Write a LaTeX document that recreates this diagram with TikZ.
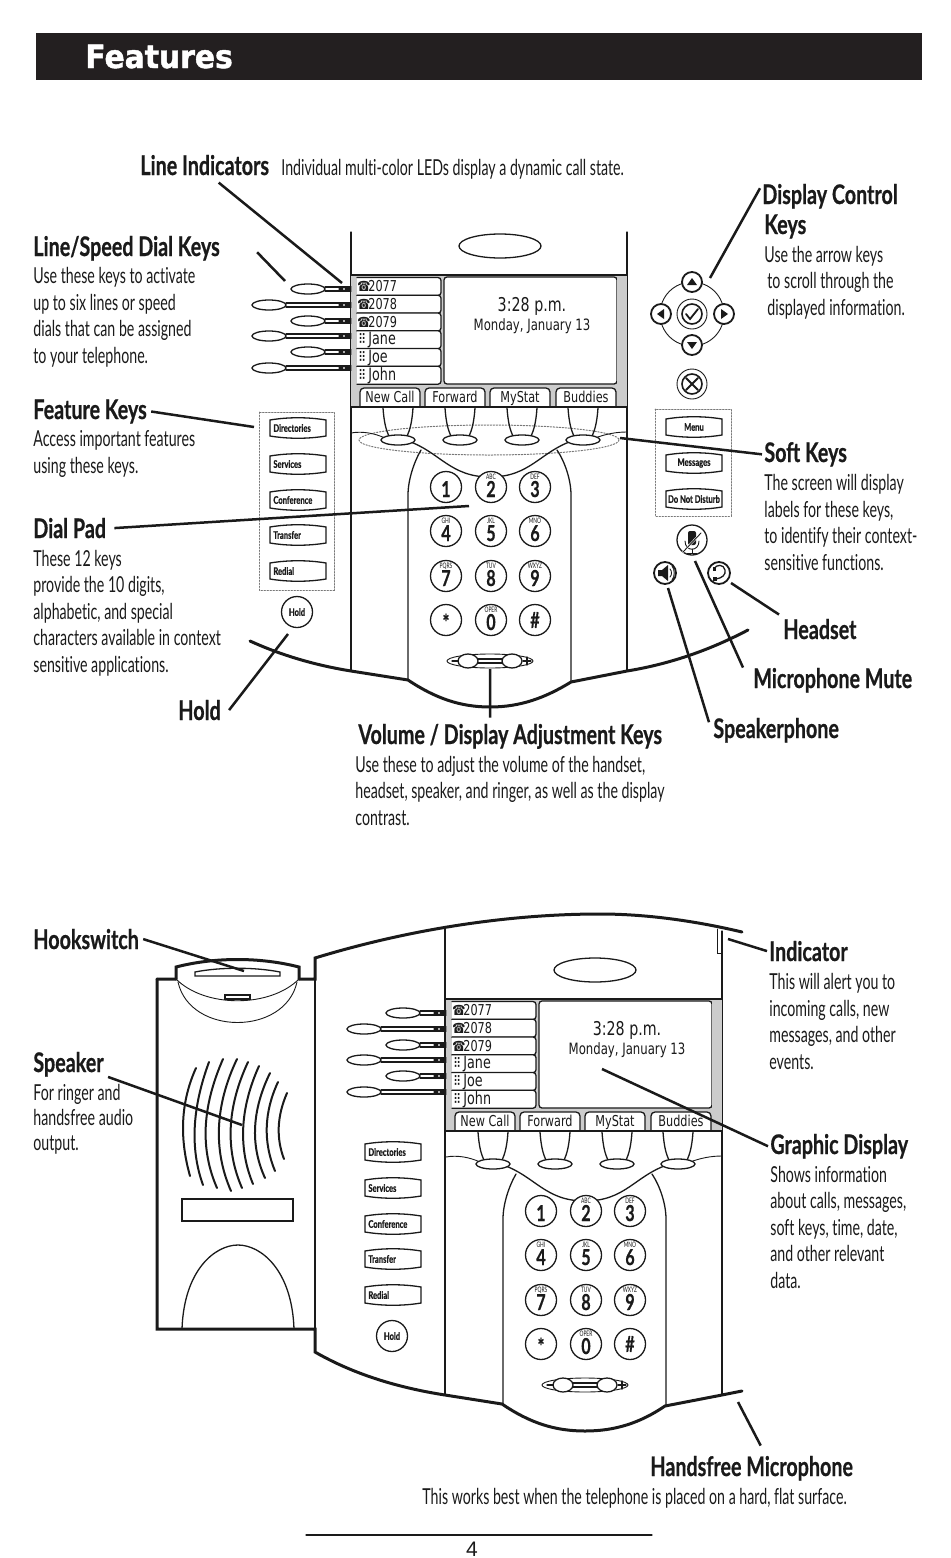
\documentclass[tikz,border=0pt]{standalone}
\usepackage{fontspec}
\usetikzlibrary{positioning, calc}
\newfontfamily\condfont[FakeStretch=0.645,Ligatures=NoCommon]{Lato}
\newfontfamily\headfont[FakeStretch=0.73,FakeBold=0.6]{Lato}
\newfontfamily\scrfont[FakeStretch=0.75]{DejaVu Sans}
\newfontfamily\titlefont[FakeStretch=0.93,FakeBold=1.5]{DejaVu Sans}
\newfontfamily\pagefont{Liberation Sans}
\definecolor{clrbar}{HTML}{231F20}
\definecolor{clrink}{HTML}{1A1A1A}
\definecolor{clrscreen}{HTML}{CCCCCC}
\definecolor{clrdots}{HTML}{777777}

\begin{document}
\begin{tikzpicture}[
    x=0.5pt, y=-0.5pt,
    line cap=round,
    every node/.style={inner sep=0, text=clrink},
    heading/.style={anchor=base west, font=\headfont\fontsize{13.5}{16}\selectfont\bfseries},
    bodytext/.style={anchor=base west, align=left, font=\condfont\fontsize{11}{13.2}\selectfont},
    keytext/.style={font=\headfont\fontsize{5.2}{6}\selectfont\bfseries},
    digittext/.style={font=\headfont\fontsize{11}{12}\selectfont\bfseries},
    lettertext/.style={font=\condfont\fontsize{3.8}{4}\selectfont},
    scrtext/.style={font=\scrfont\fontsize{7}{8}\selectfont},
    tabtext/.style={font=\scrfont\fontsize{7.5}{8}\selectfont},
    nametext/.style={font=\scrfont\fontsize{8.5}{9}\selectfont},
    leader/.style={draw=clrink, line width=1.25pt, line cap=butt},
    shell/.style={draw=clrink, line width=1.5pt, line join=miter},
    outline/.style={draw=clrink, line width=0.65pt},
    hairline/.style={draw=clrink, line width=0.45pt},
    grille/.style={draw=clrink, line width=1pt},
    dotframe/.style={draw=clrdots, line width=0.5pt, dash pattern=on 0.7pt off 0.8pt},
    pics/softbtn/.style={code={
        \draw[outline, fill=white] (-28,-8) .. controls (-10,-11) and (10,-11) .. (28,-8) -- (28,8) .. controls (10,11) and (-10,11) .. (-28,8) -- cycle;
        \node[keytext, anchor=west] at (-25,0) {#1};
    }},
    pics/softbtnc/.style={code={
        \draw[outline, fill=white] (-28,-8) .. controls (-10,-11) and (10,-11) .. (28,-8) -- (28,8) .. controls (10,11) and (-10,11) .. (-28,8) -- cycle;
        \node[keytext] at (0,0) {#1};
    }},
    pics/dialkey/.style args={#1/#2}{code={
        \draw[outline, fill=white] (0,0) circle [radius=15.5];
        \node[digittext, anchor=base] at (0,10) {#1};
        \node[lettertext] at (0,-10) {#2};
    }},
    pics/linekey/.style={code={
        \draw[outline, fill=white] (-17,0) ellipse [x radius=17, y radius=5];
        \draw[outline] (0,-2) -- (#1,-2) (0,2) -- (#1,2);
        \draw[line width=0.6pt, draw=clrink] (#1-12,0) -- (#1-8,0) (#1-6,0) -- (#1,0);
    }},
    pics/softoval/.style={code={
        \draw[outline] (-15,-32) .. controls (-14,-18) and (-12,-10) .. (-9,-4);
        \draw[outline] (15,-32) .. controls (14,-18) and (12,-10) .. (9,-4);
        \draw[outline, fill=white] (0,0) ellipse [x radius=17, y radius=5];
    }},
    pics/softtab/.style={code={
        \draw[outline, fill=white, rounded corners=2pt] (-30,19) -- (-30,0) -- (30,0) -- (30,19);
        \node[tabtext, anchor=base] at (0,14.5) {#1};
    }},
    pics/phonetab/.style={code={
        \draw[outline, fill=white, rounded corners=1.5pt] (-1,0) -- (83,0) -- (83,18) -- (-1,18);
        \node[scrtext, anchor=base west] at (-1,14) {☎};
        \node[tabtext, anchor=base west] at (10,14) {#1};
    }},
    pics/nametab/.style={code={
        \draw[outline, fill=white, rounded corners=1.5pt] (-1,0) -- (83,0) -- (83,18) -- (-1,18);
        \node[scrtext, anchor=base west] at (0,14) {⠿};
        \node[nametext, anchor=base west] at (10,14) {#1};
    }},
    pics/phoneface/.style={code={
        \draw[outline, fill=white] (500,246) ellipse [x radius=41, y radius=12];
        % screen
        \fill[clrscreen] (351,275) rectangle (627,407);
        \draw[outline] (351,275) -- (627,275);
        \draw[outline, fill=white, rounded corners=1.5pt] (444,277) -- (617,277) -- (617,384) -- (444,384) -- cycle;
        \fill[clrscreen] (617,276) rectangle (627,384);
        \pic at (358,277.5) {phonetab=2077};
        \pic at (358,295.2) {phonetab=2078};
        \pic at (358,313) {phonetab=2079};
        \pic at (358,330.7) {nametab=Jane};
        \pic at (358,348.5) {nametab=Joe};
        \pic at (358,366.2) {nametab=John};
        \node[font=\scrfont\fontsize{9.5}{12}\selectfont] (clock) at (532,306) {3:28 p.m.};
        \node[font=\scrfont\fontsize{7.8}{9}\selectfont, below=1.5pt of clock] (date) {Monday, January 13};
        \pic at (390,388) {softtab={New Call}};
        \pic at (455,388) {softtab={Forward}};
        \pic at (520,388) {softtab={MyStat}};
        \pic at (586,388) {softtab={Buddies}};
        \draw[outline] (351,407) -- (627,407);
        % line keys
        \pic at (325,289) {linekey=26};
        \pic at (286,305) {linekey=65};
        \pic at (325,321) {linekey=26};
        \pic at (286,336) {linekey=65};
        \pic at (325,352) {linekey=26};
        \pic at (286,368) {linekey=65};
        % soft keys and the curve behind them
        \draw[hairline] (351,433) .. controls (362,431) and (374,433) .. (385,438);
        \draw[hairline] (595,438) .. controls (606,434) and (616,432) .. (627,432);
        \draw[outline] (408,680) -- (408,495) .. controls (408,480) and (414,462) .. (421,450);
        \draw[outline] (571,682) -- (571,495) .. controls (571,480) and (565,462) .. (557,450);
        \draw[outline] (408,441) .. controls (440,452) and (450,477) .. (490,477) .. controls (530,477) and (540,452) .. (572,441);
        \pic at (398,440) {softoval};
        \pic at (460,440) {softoval};
        \pic at (522,440) {softoval};
        \pic at (583,440) {softoval};
        % feature keys
        \pic at (298,428) {softbtn=Directories};
        \pic at (298,464) {softbtn=Services};
        \pic at (298,500) {softbtn=Conference};
        \pic at (298,535) {softbtn=Transfer};
        \pic at (298,571) {softbtn=Redial};
        \node[draw=clrink, line width=0.65pt, fill=white, circle, minimum size=15.5pt, keytext] (hold) at (297,612) {Hold};
        % dial pad
        \pic at (446,487) {dialkey=1/};
        \pic at (491,487) {dialkey=2/ABC};
        \pic at (535,487) {dialkey=3/DEF};
        \pic at (446,531) {dialkey=4/GHI};
        \pic at (491,531) {dialkey=5/JKL};
        \pic at (535,531) {dialkey=6/MNO};
        \pic at (446,576) {dialkey=7/PQRS};
        \pic at (491,576) {dialkey=8/TUV};
        \pic at (535,576) {dialkey=9/WXYZ};
        \pic at (491,620) {dialkey=0/OPER};
        \draw[outline, fill=white] (446,620) circle [radius=15.5];
        \node[digittext] (star) at (446,622) {*};
        \draw[outline, fill=white] (535,620) circle [radius=15.5];
        \node[digittext] (hash) at (535,620) {\#};
        % volume
        \draw[hairline] (490,661) ellipse [x radius=43, y radius=7];
        \draw[outline] (476,659) -- (504,659) (476,663) -- (504,663);
        \draw[outline, fill=white] (468,661) ellipse [x radius=10, y radius=7];
        \draw[outline, fill=white] (512,661) ellipse [x radius=10, y radius=7];
        \draw[outline] (452,661) -- (458,661);
        \draw[outline] (523,661) -- (531,661) (527,657) -- (527,665);
    }},
]
% title bar
\useasboundingbox (0,0) rectangle (950,1558);
\fill[clrbar] (36,33) rectangle (922,80);
\node[anchor=base west, text=white, font=\titlefont\fontsize{16}{18}\selectfont\bfseries] (title) at (85,68) {Features};

% upper phone
\draw[outline] (351,232) -- (351,671);
\draw[outline] (627,232) -- (627,671);
\draw[dotframe] (489,440) ellipse [x radius=130, y radius=15];
\draw[dotframe] (259,412) rectangle (334,590);
\draw[dotframe] (655,409) rectangle (731,516);
\pic (up) at (0,0) {phoneface};
\draw[shell] (250,641) .. controls (285,657) and (320,666) .. (351,671) -- (408,680) .. controls (435,698) and (460,707) .. (490,707) .. controls (520,707) and (545,698) .. (571,682) -- (627,671) .. controls (670,664) and (710,650) .. (748,630);
\pic at (694,427) {softbtnc=Menu};
\pic at (694,463) {softbtnc=Messages};
\pic at (694,499) {softbtnc=Do Not Disturb};

% display control cluster
\draw[hairline] (692,314) circle [radius=32];
\draw[hairline] (692,314) circle [radius=15];
\draw[outline, line width=0.8pt] (692,314) circle [radius=10];
\draw[outline, line width=0.9pt] (686,314) -- (690,319) -- (698,309);
\draw[outline, line width=0.9pt, fill=white] (692,282) circle [radius=10];
\draw[outline, line width=0.9pt, fill=white] (692,345) circle [radius=10];
\draw[outline, line width=0.9pt, fill=white] (661,314) circle [radius=10];
\draw[outline, line width=0.9pt, fill=white] (724,314) circle [radius=10];
\fill[clrink] (687,285) -- (697,285) -- (692,278) -- cycle;
\fill[clrink] (687,342) -- (697,342) -- (692,349) -- cycle;
\fill[clrink] (664,309) -- (664,319) -- (657,314) -- cycle;
\fill[clrink] (721,309) -- (721,319) -- (728,314) -- cycle;
\draw[hairline] (692,384) circle [radius=15];
\draw[outline, line width=0.8pt] (692,384) circle [radius=10];
\draw[outline, line width=0.9pt] (686,378) -- (698,390) (698,378) -- (686,390);

% mute, speaker, headset
\draw[outline, fill=white] (692,540) circle [radius=15];
\fill[clrink, rounded corners=1pt] (688,531) rectangle (696,545);
\draw[hairline] (685,541) .. controls (685,552) and (699,552) .. (699,541);
\draw[hairline] (692,549) -- (692,553) (687,553) -- (697,553);
\draw[draw=white, line width=1pt] (683,552) -- (701,533);
\draw[hairline] (683,552) -- (701,533);
\draw[outline, line width=0.9pt, fill=white] (665,573) circle [radius=11];
\fill[clrink] (658,570) -- (662,570) -- (668,565) -- (668,581) -- (662,576) -- (658,576) -- cycle;
\draw[hairline] (670,569) .. controls (672,571) and (672,575) .. (670,577);
\draw[hairline] (672,566) .. controls (675,570) and (675,576) .. (672,580);
\draw[outline, line width=0.9pt, fill=white] (719,573) circle [radius=11];
\draw[outline] (714,569) .. controls (716,564) and (724,564) .. (725,570) .. controls (726,575) and (722,578) .. (716,579);
\fill[clrink] (713,577) rectangle (717,581);
\fill[clrink] (713,567) rectangle (716,571);

% upper labels
\node[heading] (h_lines) at (140,175) {Line Indicators};
\node[bodytext, anchor=base west] (b_lines) at (281,175) {Individual multi-color LEDs display a dynamic call state.};
\node[heading] (h_speed) at (33,256) {Line/Speed Dial Keys};
\node[bodytext] (b_speed) at (33,363) {Use these keys to activate\\up to six lines or speed\\dials that can be assigned\\to your telephone.};
\node[heading] (h_feature) at (33,419) {Feature Keys};
\node[bodytext] (b_feature) at (33,473) {Access important features\\using these keys.};
\node[heading] (h_dial) at (33,538) {Dial Pad};
\node[bodytext] (b_dial) at (33,672) {These 12 keys\\provide the 10 digits,\\alphabetic, and special\\characters available in context\\sensitive applications.};
\node[heading] (h_hold) at (178,720) {Hold};
\node[heading] (h_vol) at (358,744) {Volume / Display Adjustment Keys};
\node[bodytext] (b_vol) at (355,825) {Use these to adjust the volume of the handset,\\headset, speaker, and ringer, as well as the display\\contrast.};
\node[heading] (h_display) at (762,204) {Display Control};
\node[heading] (h_keys) at (764,234) {Keys};
\node[bodytext] (b_display) at (764,315) {Use the arrow keys\\\hspace{1.5pt}to scroll through the\\\hspace{1.5pt}displayed information.};
\node[heading] (h_soft) at (764,462) {Soft Keys};
\node[bodytext] (b_soft) at (764,570) {The screen will display\\labels for these keys,\\to identify their context-\\sensitive functions.};
\node[heading] (h_headset) at (783,639) {Headset};
\node[heading] (h_mic) at (753,688) {Microphone Mute};
\node[heading] (h_sphone) at (713,738) {Speakerphone};

% lower phone
\draw[shell] (157,979) -- (157,1329) -- (315,1329) -- (315,1352) .. controls (355,1375) and (400,1388) .. (445,1395) -- (502,1404) .. controls (530,1423) and (555,1431) .. (585,1431) .. controls (615,1431) and (640,1423) .. (665,1406) -- (722,1395) -- (742,1391);
\draw[shell] (157,979) -- (176,979) (299,979) -- (315,979) -- (315,958) .. controls (400,932) and (500,914) .. (600,914) .. controls (650,914) and (700,922) .. (742,932);
\draw[outline] (315,958) -- (315,1352);
\draw[outline] (445,929) -- (445,1395);
\draw[outline] (722,931) -- (722,1395);
\draw[hairline] (717,929) -- (717,953) -- (722,953);
\pic (low) at (95,724) {phoneface};
\draw[shell] (176,979) -- (176,967) .. controls (215,957) and (260,957) .. (299,967) -- (299,979);
\draw[hairline] (176,979) .. controls (205,1008) and (270,1008) .. (299,979);
\draw[hairline] (178,982) .. controls (190,1036) and (285,1036) .. (297,982);
\draw[outline] (195,972) .. controls (220,967) and (255,967) .. (280,972) -- (280,976) -- (195,976) -- cycle;
\draw[outline] (225,995) rectangle (250,999);
\draw[grille] (196,1068) .. controls (181,1101) and (179,1137) .. (190,1176);
\draw[grille] (209,1062) .. controls (192,1108) and (190,1149) .. (203,1185);
\draw[grille] (223,1059) .. controls (202,1107) and (200,1149) .. (217,1188);
\draw[grille] (237,1059) .. controls (215,1105) and (213,1150) .. (231,1191);
\draw[grille] (248,1062) .. controls (227,1107) and (225,1149) .. (242,1188);
\draw[grille] (259,1066) .. controls (240,1108) and (238,1148) .. (253,1184);
\draw[grille] (270,1073) .. controls (252,1110) and (250,1145) .. (265,1178);
\draw[grille] (278,1082) .. controls (264,1112) and (263,1142) .. (275,1171);
\draw[grille] (287,1093) .. controls (277,1116) and (276,1138) .. (284,1159);
\draw[outline] (182,1199) rectangle (293,1221);
\draw[outline] (182,1329) .. controls (184,1270) and (215,1245) .. (238,1245) .. controls (261,1245) and (292,1270) .. (294,1329);

% lower labels
\node[heading] (h_hook) at (33,949) {Hookswitch};
\node[heading] (h_speaker) at (33,1072) {Speaker};
\node[bodytext, font=\condfont\fontsize{11}{12.3}\selectfont] (b_speaker) at (33,1150) {For ringer and\\handsfree audio\\output.};
\node[heading] (h_indicator) at (769,961) {Indicator};
\node[bodytext] (b_indicator) at (769,1069) {This will alert you to\\incoming calls, new\\messages, and other\\events.};
\node[heading] (h_graphic) at (770,1154) {Graphic Display};
\node[bodytext] (b_graphic) at (770,1288) {Shows information\\about calls, messages,\\soft keys, time, date,\\and other relevant\\data.};
\node[heading] (h_hands) at (650,1476) {Handsfree Microphone};
\node[bodytext] (b_hands) at (422,1504) {This works best when the telephone is placed on a hard, flat surface.};

% leader ends
\coordinate (c_lines) at (342,283);
\coordinate (c_speed) at (285,281);
\coordinate (c_feature) at (254,427);
\coordinate (c_dial) at (469,506);
\coordinate (c_hold) at (288,634);
\coordinate (c_vol) at (490,669);
\coordinate (c_display) at (710,278);
\coordinate (c_soft) at (620,438);
\coordinate (c_headset) at (731,583);
\coordinate (c_mic) at (695,561);
\coordinate (c_sphone) at (668,588);
\coordinate (c_hook) at (244,971);
\coordinate (c_speaker) at (242,1125);
\coordinate (c_indicator) at (728,939);
\coordinate (c_graphic) at (602,1069);
\coordinate (c_hands) at (738,1402);
\draw[leader] ([xshift=7pt,yshift=-3.5pt]h_lines.south) -- (c_lines);
\draw[leader] ([xshift=18.5pt,yshift=-2pt]h_speed.east) -- (c_speed);
\draw[leader] ([xshift=2pt]h_feature.east) -- (c_feature);
\draw[leader] ([xshift=4pt]h_dial.east) -- (c_dial);
\draw[leader] ([xshift=4pt]h_hold.east) -- (c_hold);
\draw[leader] ([xshift=-10pt,yshift=3pt]h_vol.north) -- (c_vol);
\draw[leader] ([xshift=-1pt,yshift=4pt]h_display.west) -- (c_display);
\draw[leader] ([xshift=-1pt]h_soft.west) -- (c_soft);
\draw[leader] ([xshift=-2pt,yshift=2pt]h_headset.north west) -- (c_headset);
\draw[leader] ([xshift=-5pt]h_mic.north west) -- (c_mic);
\draw[leader] ([xshift=-2pt,yshift=4pt]h_sphone.west) -- (c_sphone);
\draw[leader] ([xshift=2pt]h_hook.east) -- (c_hook);
\draw[leader] ([xshift=2pt]h_speaker.south east) -- (c_speaker);
\draw[leader] ([xshift=-1pt]h_indicator.west) -- (c_indicator);
\draw[leader] ([xshift=-1pt]h_graphic.west) -- (c_graphic);
\draw[leader] ([xshift=4.5pt,yshift=5pt]h_hands.north) -- (c_hands);

% page number
\node[font=\pagefont\fontsize{10.5}{12}\selectfont] (pageno) at (472,1549) {4};
\coordinate (rule_a) at (306,1535);
\coordinate (rule_b) at (652,1535);
\draw[outline] (rule_a) -- (rule_b);
\end{tikzpicture}
\end{document}
